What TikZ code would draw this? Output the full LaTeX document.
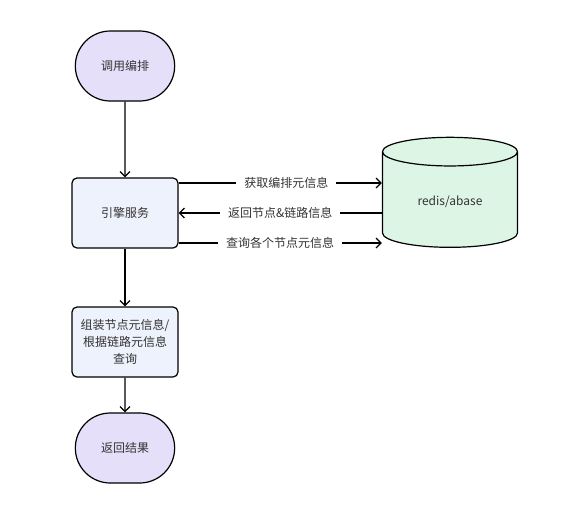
\documentclass[tikz,border=0pt]{standalone}
\usepackage{fontspec}
\setmainfont{Noto Sans CJK SC}
\usetikzlibrary{shapes.geometric,shapes.misc,arrows.meta}
\definecolor{termfill}{HTML}{E6DFFA}
\definecolor{boxfill}{HTML}{EEF2FC}
\definecolor{dbfill}{HTML}{DDF5E4}
\definecolor{txt}{HTML}{333333}
\tikzset{
  terminal/.style={rounded rectangle, draw, line width=1.2pt, fill=termfill, minimum width=106pt, minimum height=70pt, text=txt},
  procbox/.style={rectangle, rounded corners=5pt, draw, line width=1.2pt, fill=boxfill, minimum width=106pt, minimum height=70pt, align=center, text=txt},
  store/.style={cylinder, shape border rotate=90, aspect=0.4, draw, line width=1.2pt, fill=dbfill, minimum width=135pt, minimum height=110pt, text=txt},
  flow/.style={-{Straight Barb[length=5pt,width=10pt]}, line width=1.2pt},
  msg/.style={fill=white, inner xsep=8pt, text=txt}
}
\begin{document}
\begin{tikzpicture}[x=1pt, y=-1pt, font=\fontsize{12}{17}\selectfont]
    \useasboundingbox (0,0) rectangle (563,523);
    \node[terminal] (start) at (125,66) {调用编排};
    \node[procbox] (engine) at (125,213) {引擎服务};
    \node[procbox] (assemble) at (125,342) {组装节点元信息/\\根据链路元信息\\查询};
    \node[terminal] (result) at (125,448) {返回结果};
    \node[store] (db) at (450,202) {redis/abase};
    \path (start) edge[flow] (engine);
    \path (engine) edge[flow] (assemble);
    \path (assemble) edge[flow] (result);
    \draw[flow] (engine.east |- 0,183) -- node[msg, pos=0.53] {获取编排元信息} (db.west |- 0,183);
    \draw[flow] (db.west |- 0,213) -- node[msg, pos=0.5] {返回节点\&链路信息} (engine.east |- 0,213);
    \draw[flow] (engine.east |- 0,243) -- node[msg] {查询各个节点元信息} (db.west |- 0,243);
\end{tikzpicture}
\end{document}
